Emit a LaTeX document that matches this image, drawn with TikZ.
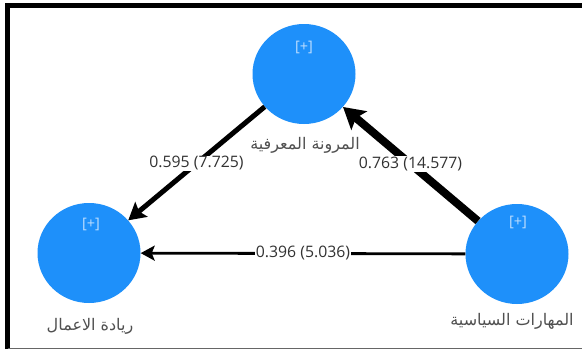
\documentclass[tikz,border=0pt]{standalone}
\usepackage{fontspec}
\setmainfont{Open Sans}
\newfontfamily\arabicfont[Script=Arabic]{DejaVu Sans}
\TeXXeTstate=1
\usetikzlibrary{arrows.meta,shapes.geometric}
\definecolor{cblue}{RGB}{30,144,250}
\definecolor{labgray}{RGB}{80,80,80}
\definecolor{numgray}{RGB}{50,50,50}
\definecolor{plusc}{RGB}{190,222,255}
\begin{document}
\begin{tikzpicture}[x=1pt,y=-1pt,
  construct/.style={ellipse, fill=cblue, minimum width=103pt, minimum height=100pt, inner sep=0pt},
  plus/.style={text=plusc, font=\fontsize{14.5}{16}\selectfont},
  lbl/.style={text=labgray, font=\arabicfont\fontsize{16}{18}\selectfont},
  coef/.style={fill=white, inner sep=1pt, text=numgray, font=\fontsize{15.8}{18}\selectfont}]
\useasboundingbox (0,0) rectangle (582,351);
\fill[white] (0,0) rectangle (582,351);
\draw[line width=5pt] (7.5,349) -- (7.5,5.5) -- (582,5.5);
\draw[line width=1.2pt, black!60] (7.5,348.5) -- (582,348.5);

\node[construct] (t) at (304,74) {};
\node[construct] (l) at (89,253) {};
\node[construct] (r) at (517,254) {};

\node[plus] (tp) at (304,47) {[+]};
\node[plus] (lp) at (91,224) {[+]};
\node[plus] (rp) at (518,222) {[+]};

\node[lbl] (tl) at (305,145) {\beginR المرونة المعرفية\endR};
\node[lbl] (ll) at (90,326) {\beginR ريادة الاعمال\endR};
\node[lbl] (rl) at (512,321) {\beginR المهارات السياسية\endR};

\draw[line width=8pt, -{Stealth[length=21pt,width=24pt,inset=4pt]}] (r) -- node[coef]{0.763 (14.577)} (t);
\draw[line width=5pt, -{Stealth[length=17pt,width=19pt,inset=3pt]}] (t) -- node[coef]{0.595 (7.725)} (l);
\draw[line width=2.8pt, -{Stealth[length=14pt,width=15pt,inset=3pt]}] (r) -- node[coef]{0.396 (5.036)} (l);
\end{tikzpicture}
\end{document}
